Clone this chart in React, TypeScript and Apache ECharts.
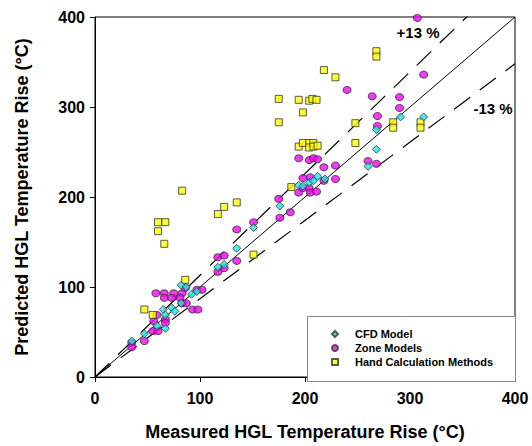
import React, { useEffect, useRef } from "react";
import * as echarts from "echarts";

const xTicks = [0, 100, 200, 300, 400];
const cfdModel: number[][] = [
  [35, 40], [47, 48], [59, 57], [67, 54], [65, 75], [73, 77], [76, 73], [67, 69],
  [82, 82], [82, 102], [87, 100], [92, 92], [97, 95], [117, 122], [123, 125],
  [135, 143], [151, 166], [176, 190], [194, 213], [198, 212], [204, 216], [208, 218],
  [212, 223], [219, 220], [260, 234], [268, 253], [268, 275], [291, 289], [313, 289],
];
const zoneModels: number[][] = [
  [35, 38], [35, 33], [47, 40], [55, 51], [60, 51], [56, 62], [59, 69], [67, 64], [67, 60],
  [58, 93], [66, 93], [75, 93], [83, 93], [86, 99], [66, 88], [73, 88], [81, 88],
  [83, 82], [87, 82], [93, 75], [98, 75], [97, 97], [102, 97],
  [117, 133], [123, 135], [135, 129], [117, 117], [123, 121], [135, 164], [151, 172],
  [175, 198], [186, 183], [176, 177],
  [194, 205], [198, 210], [204, 210], [205, 205], [211, 206], [198, 221], [205, 222],
  [218, 218], [229, 220], [194, 243], [204, 241], [208, 243], [212, 242], [218, 233], [229, 235],
  [260, 240], [268, 237], [240, 319], [264, 312], [290, 311], [290, 299], [269, 290],
  [269, 279], [313, 336], [307, 399],
];
const handCalc: number[][] = [
  [47, 75], [55, 69], [86, 108], [60, 172], [67, 172], [60, 162], [66, 148], [83, 207],
  [117, 181], [123, 189], [135, 194], [151, 136], [187, 211], [175, 309], [175, 283],
  [194, 308], [198, 294], [204, 307], [207, 309], [211, 308], [218, 341], [229, 333],
  [248, 282], [248, 260], [268, 362], [268, 356], [284, 283], [284, 277], [310, 283],
  [310, 277], [194, 256], [198, 260], [204, 260], [204, 255], [208, 260], [208, 256], [212, 257],
];
const perfectLine = [[0, 0], [400, 400]];
const upperLine = [[0, 0], [400, 452]];
const lowerLine = [[0, 0], [400, 348]];
const upperLabel = "+13 %";
const lowerLabel = "-13 %";

const FONT = "'Liberation Sans', Arial, sans-serif";

export default function App() {
  const ref = useRef<HTMLDivElement>(null);
  useEffect(() => {
    if (!ref.current) return;
    const chart = echarts.init(ref.current, null, { renderer: "svg" });
    const axisCommon = {
      type: "value" as const,
      min: 0,
      max: 400,
      interval: 100,
      splitLine: { show: false },
      axisLine: { show: true, lineStyle: { color: "#000", width: 1 } },
      axisTick: { show: true, inside: false, length: 5, lineStyle: { color: "#000" } },
      axisLabel: { color: "#000", fontSize: 16, fontWeight: "bold", fontFamily: FONT },
      nameLocation: "middle" as const,
      nameTextStyle: { color: "#000", fontSize: 18, fontWeight: "bold", fontFamily: FONT },
    };
    const lineCommon = {
      type: "line" as const,
      showSymbol: false,
      silent: true,
      clip: true,
      z: 1,
    };
    const markerBorder = { borderColor: "#333", borderWidth: 1 };
    chart.setOption({
      animation: false,
      backgroundColor: "#fff",
      grid: {
        left: 95, right: 17, top: 17, bottom: 64,
        show: true, borderColor: "#000", borderWidth: 1, backgroundColor: "transparent",
      },
      xAxis: {
        ...axisCommon,
        axisLabel: { ...axisCommon.axisLabel, margin: 13 },
        name: "Measured HGL Temperature Rise (°C)",
        nameGap: 46,
      },
      yAxis: {
        ...axisCommon,
        axisLabel: { ...axisCommon.axisLabel, margin: 10 },
        name: "Predicted HGL Temperature Rise (°C)",
        nameGap: 64,
      },
      legend: {
        data: ["CFD Model", "Zone Models", "Hand Calculation Methods"],
        orient: "vertical",
        left: 331,
        top: 327,
        padding: 0,
        itemGap: 0,
        itemWidth: 6,
        itemHeight: 6,
        textStyle: {
          color: "#000", fontSize: 11, fontWeight: "bold", fontFamily: FONT,
          lineHeight: 14, padding: [0, 0, 0, 12],
        },
      },
      graphic: [
        {
          type: "rect", shape: { x: 307.5, y: 316.5, width: 208, height: 65 },
          style: { fill: "#fff", stroke: "#888", lineWidth: 1 }, z: 3, silent: true,
        },
        {
          type: "text", x: 418, y: 32,
          style: { text: upperLabel, fill: "#000", fontSize: 15, fontWeight: "bold", fontFamily: FONT, align: "center", verticalAlign: "middle" },
        },
        {
          type: "text", x: 493, y: 108,
          style: { text: lowerLabel, fill: "#000", fontSize: 15, fontWeight: "bold", fontFamily: FONT, align: "center", verticalAlign: "middle" },
        },
      ],
      series: [
        { ...lineCommon, name: "1:1", data: perfectLine, lineStyle: { color: "#000", width: 1 } },
        { ...lineCommon, name: "+13", data: upperLine, lineStyle: { color: "#000", width: 1.2, type: [20, 12] } },
        { ...lineCommon, name: "-13", data: lowerLine, lineStyle: { color: "#000", width: 1.2, type: [20, 12] } },
        {
          type: "scatter", name: "Zone Models", data: zoneModels, symbol: "circle", symbolSize: [8, 7],
          itemStyle: { color: "#ff00ff", ...markerBorder }, z: 3,
        },
        {
          type: "scatter", name: "Hand Calculation Methods", data: handCalc, symbol: "rect", symbolSize: 7,
          itemStyle: { color: "#ffff00", ...markerBorder }, z: 3,
        },
        {
          type: "scatter", name: "CFD Model", data: cfdModel, symbol: "diamond", symbolSize: [8, 8],
          itemStyle: { color: "#22e5e5", ...markerBorder }, z: 4,
        },
      ],
    });
    return () => chart.dispose();
  }, []);
  return <div ref={ref} style={{ width: 532, height: 446, position: "absolute", left: 0, top: 0 }} />;
}
